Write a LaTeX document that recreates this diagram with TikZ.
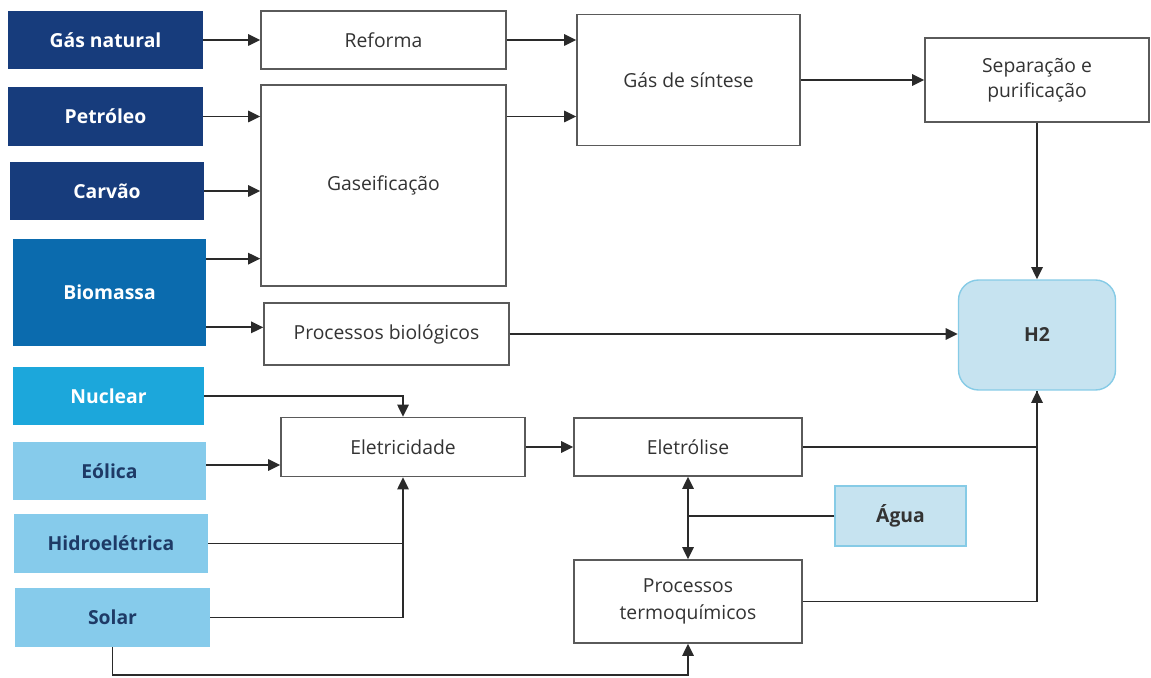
\documentclass[tikz,border=0pt]{standalone}
\usepackage{fontspec}
\setmainfont{Open Sans}
\usepackage{xcolor}
\usetikzlibrary{arrows.meta, positioning, calc}

\definecolor{navy}{HTML}{173C7C}
\definecolor{bioblue}{HTML}{0B6BAE}
\definecolor{nucblue}{HTML}{1CA7DB}
\definecolor{skyblue}{HTML}{86CBEB}
\definecolor{paleblue}{HTML}{C6E3F0}
\definecolor{paleedge}{HTML}{86CBE6}
\definecolor{inknavy}{HTML}{1E3A66}
\definecolor{boxedge}{HTML}{5A5A5A}
\definecolor{linegray}{HTML}{2A2A2A}
\definecolor{textgray}{HTML}{333333}

\tikzset{
  source/.style={rectangle, inner sep=2pt, align=center, font=\fontsize{11}{13}\selectfont\bfseries},
  darksrc/.style={source, fill=navy, text=white},
  lightsrc/.style={source, fill=skyblue, text=inknavy},
  procbox/.style={rectangle, draw=boxedge, line width=0.8pt, fill=white, align=center,
    text=textgray, font=\fontsize{11}{14}\selectfont},
  flow/.style={draw=linegray, line width=1.1pt},
  tip/.tip={Triangle[length=7pt, width=6.5pt]},
  arr/.style={flow, -tip}
}

\begin{document}
\begin{tikzpicture}[x=0.02cm, y=-0.02cm]
\useasboundingbox (0,0) rectangle (1151,678);

% Sources
\node[darksrc, minimum width=3.9cm, minimum height=1.16cm] (gas) at (105.5,40) {Gás natural};
\node[darksrc, minimum width=3.9cm, minimum height=1.18cm] (petroleo) at (105.5,116.5) {Petróleo};
\node[darksrc, minimum width=3.88cm, minimum height=1.16cm] (carvao) at (107,191) {Carvão};
\node[source, fill=bioblue, text=white, minimum width=3.86cm, minimum height=2.14cm] (biomassa) at (109.5,292.5) {Biomassa};
\node[source, fill=nucblue, text=white, minimum width=3.82cm, minimum height=1.16cm] (nuclear) at (108.5,396) {Nuclear};
\node[lightsrc, minimum width=3.86cm, minimum height=1.16cm] (eolica) at (109.5,471) {Eólica};
\node[lightsrc, minimum width=3.88cm, minimum height=1.18cm] (hidro) at (111,543.5) {Hidroelétrica};
\node[lightsrc, minimum width=3.9cm, minimum height=1.18cm] (solar) at (112.5,617.5) {Solar};

% Processes
\node[procbox, minimum width=4.9cm, minimum height=1.16cm] (reforma) at (383.5,40) {Reforma};
\node[procbox, minimum width=4.9cm, minimum height=4.02cm] (gaseif) at (383.5,185.5) {Gaseificação};
\node[procbox, minimum width=4.9cm, minimum height=1.24cm] (procbio) at (386.5,334) {Processos biológicos};
\node[procbox, minimum width=4.46cm, minimum height=2.62cm] (sintese) at (688.5,80) {Gás de síntese};
\node[procbox, minimum width=4.48cm, minimum height=1.68cm] (separacao) at (1037,80) {Separação e\\purificação};
\node[procbox, minimum width=4.88cm, minimum height=1.18cm] (eletricidade) at (403,447) {Eletricidade};
\node[procbox, minimum width=4.56cm, minimum height=1.16cm] (eletrolise) at (688,447) {Eletrólise};
\node[procbox, minimum width=4.56cm, minimum height=1.66cm, font=\fontsize{11}{15}\selectfont] (termo) at (688,601.5) {Processos\\termoquímicos};
\node[rectangle, draw=paleedge, line width=0.8pt, fill=paleblue, text=textgray, font=\fontsize{11}{13}\selectfont\bfseries,
  minimum width=2.62cm, minimum height=1.2cm] (agua) at (900.5,516) {Água};

% Product
\node[rectangle, rounded corners=0.4cm, draw=paleedge, line width=0.8pt, fill=paleblue, text=textgray,
  font=\fontsize{11}{13}\selectfont\bfseries, minimum width=3.14cm, minimum height=2.2cm] (h2) at (1037,335) {H2};

% Upper flows
\draw[arr] (gas.east) -- (reforma.west);
\draw[arr] (petroleo.east) -- (petroleo.east -| gaseif.west);
\draw[arr] (carvao.east) -- (carvao.east -| gaseif.west);
\draw[arr] ([yshift=-0.4cm]biomassa.north east) -- ([yshift=-0.4cm]biomassa.north east -| gaseif.west);
\draw[arr] ([yshift=0.38cm]biomassa.south east) -- ([yshift=0.38cm]biomassa.south east -| procbio.west);
\draw[arr] (reforma.east) -- (reforma.east -| sintese.west);
\draw[arr] (gaseif.east |- petroleo.east) -- (sintese.west |- petroleo.east);
\draw[arr] (sintese.east) -- (separacao.west);
\draw[arr] (separacao.south) -- (h2.north);
\draw[arr] (procbio.east) -- (procbio.east -| h2.west);

% Lower flows
\draw[arr] (nuclear.east) -| (eletricidade.north);
\draw[arr] ([yshift=0.12cm]eolica.east) -- ([yshift=0.12cm]eolica.east -| eletricidade.west);
\draw[flow] (hidro.east) -- (hidro.east -| eletricidade.south);
\draw[arr] (solar.east) -| (eletricidade.south);
\draw[arr] (eletricidade.east) -- (eletrolise.west);
\draw[flow, tip-tip] (eletrolise.south) -- (termo.north);
\draw[flow] (agua.west) -- (agua.west -| eletrolise.south);
\draw[arr] (eletrolise.east) -| (h2.south);
\draw[flow] (termo.east) -| (h2.south);
\coordinate (solarbase) at ($(solar.south)+(0,28)$);
\draw[arr] (solar.south) -- (solarbase) -| (termo.south);
\end{tikzpicture}
\end{document}
